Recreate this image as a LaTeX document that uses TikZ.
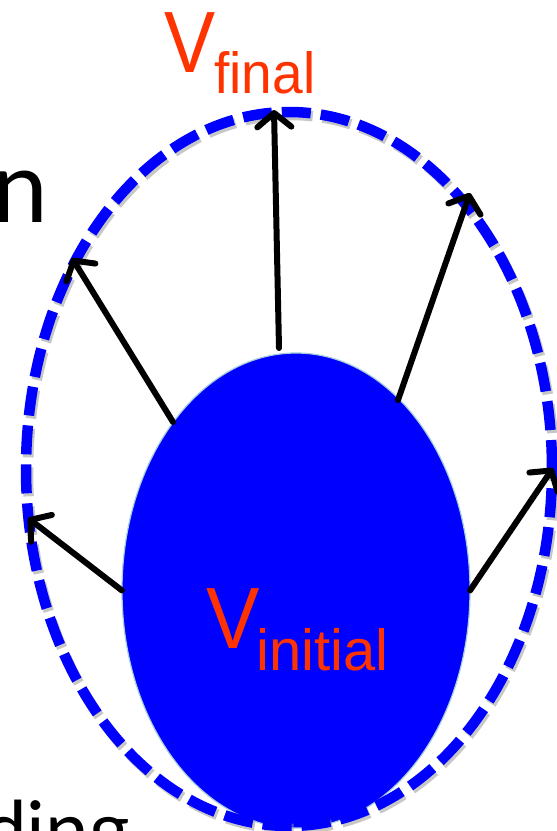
\documentclass[tikz,border=0pt]{standalone}
\usepackage{fontspec}
\setmainfont{Liberation Sans}
\newfontfamily\gillfont{Lato}
\usetikzlibrary{shapes.geometric,arrows.meta}
\definecolor{vred}{RGB}{255,51,0}
\definecolor{vblue}{RGB}{0,0,255}
\definecolor{rim}{RGB}{165,205,220}
\begin{document}
\begin{tikzpicture}[x=1pt,y=-1pt,
  arr/.style={line width=6pt, line cap=round, line join=round,
    -{Straight Barb[length=14pt,width=34pt,line cap=round,line join=round]}},
  dashring/.style={ellipse, line width=10.5pt, dash pattern=on 29pt off 10pt,
    minimum width=526pt, minimum height=714pt, inner sep=0pt},
  vbig/.style={inner sep=0pt, anchor=base west, text=vred, font=\fontsize{87}{87}\selectfont},
  vsub/.style={inner sep=0pt, anchor=base west, text=vred, font=\fontsize{58}{58}\selectfont},
  side/.style={inner sep=0pt, anchor=base east, text=black}]
\useasboundingbox (0,0) rectangle (557,831);
\clip (0,0) rectangle (557,831);
% side words (cut off at the picture's edge)
\node[side, font=\gillfont\fontsize{100}{100}\selectfont] (wn) at (48,222) {n};
\node[side, font=\gillfont\fontsize{78}{78}\selectfont] (wding) at (130,857) {ding};
% initial volume
\node[ellipse, fill=vblue, draw=rim, line width=1.2pt, minimum width=348pt,
  minimum height=475pt, inner sep=0pt, outer sep=0pt] (vin) at (296,590.5) {};
% final volume (shadow + dashed ring)
\node[dashring, draw=black!40, opacity=0.55] (vshadow) at (291,472) {};
\node[dashring, draw=vblue] (vfin) at (289,469) {};
% arrow start points on the initial volume, tips on the final ring
\coordinate (s1) at (279,348);
\coordinate (s2) at (398,400);
\coordinate (s3) at (173,422);
\coordinate (t1) at (274,110);
\coordinate (t2) at (470,193);
\coordinate (t3) at (72,258);
\coordinate (t4) at (28,518);
\coordinate (t5) at (553,468);
\draw[arr] (s1) -- (t1);
\draw[arr] (s2) -- (t2);
\draw[arr] (s3) -- (t3);
\draw[arr] (vin.west) -- (t4);
\draw[arr] (vin.east) -- (t5);
% labels
\node[vbig] (vf) at (164,72) {\scalebox{0.88}[1]{V}};
\node[vsub] (vfs) at (214,93) {\scalebox{0.95}[1]{final}};
\node[vbig] (vi) at (206,648) {\scalebox{0.92}[1]{V}};
\node[vsub] (vis) at (256,670) {initial};
\end{tikzpicture}
\end{document}
